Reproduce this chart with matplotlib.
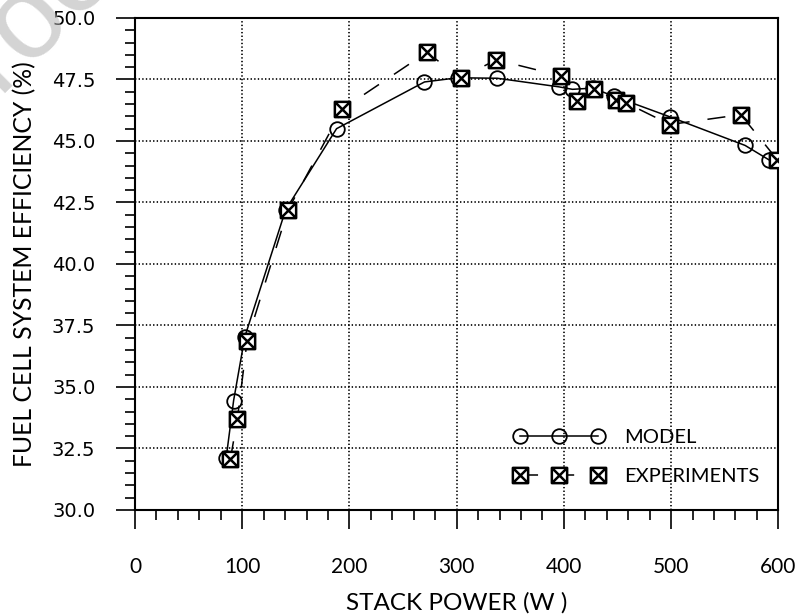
#import libraries
import numpy as np
import matplotlib
matplotlib.use("Agg")
import matplotlib.pyplot as plt
from matplotlib.path import Path

#data
model_power = [85, 92, 102.5, 140.5, 188, 270, 301, 338, 395.5, 408, 427, 446.5, 499, 569, 591]
model_eff = [32.1, 34.45, 37.05, 42.2, 45.5, 47.4, 47.57, 47.55, 47.2, 47.1, 47.15, 46.82, 45.98, 44.82, 44.24]

exp_power = [89, 95.5, 104.5, 142.5, 193.5, 272, 304, 337, 397, 412, 428, 449, 458, 499, 565, 599]
exp_eff = [32.07, 33.7, 36.86, 42.18, 46.3, 48.6, 47.57, 48.3, 47.65, 46.62, 47.12, 46.66, 46.55, 45.67, 46.07, 44.24]

x_ticks = [0, 100, 200, 300, 400, 500, 600]
y_ticks = [30.0, 32.5, 35.0, 37.5, 40.0, 42.5, 45.0, 47.5, 50.0]

plt.rcParams['lines.scale_dashes'] = False
label_font = 'Lato'

#square with a cross inside, used for the experiment points
box_x = Path([(-1, -1), (1, -1), (1, 1), (-1, 1), (-1, -1),
              (-1, -1), (1, 1), (-1, 1), (1, -1)],
             [Path.MOVETO, Path.LINETO, Path.LINETO, Path.LINETO, Path.CLOSEPOLY,
              Path.MOVETO, Path.LINETO, Path.MOVETO, Path.LINETO])

fig = plt.figure(figsize=(8.01, 6.14), dpi=100)
ax = fig.add_axes([0.1685, 0.1694, 0.8032, 0.8013])

ax.plot(model_power, model_eff, color='black', lw=1.1, marker='o', ms=10.5,
        mfc='none', mec='black', mew=1.3, label='MODEL', zorder=3)
ax.plot(exp_power, exp_eff, color='black', lw=1.1, dashes=(13, 13), marker=box_x,
        ms=11, mfc='white', mec='black', mew=1.8, label='EXPERIMENTS', zorder=4)

ax.set_xlim(0, 600)
ax.set_ylim(30, 50)
ax.set_xticks(x_ticks)
ax.set_xticklabels([str(v) for v in x_ticks], fontfamily=label_font, fontsize=15)
ax.set_yticks(y_ticks)
ax.set_yticklabels(['%.1f' % v for v in y_ticks], fontfamily='DejaVu Sans', fontsize=14)
ax.set_xticks(np.arange(0, 601, 20), minor=True)
ax.set_yticks(np.arange(30, 50.01, 0.5), minor=True)

ax.tick_params(axis='both', which='major', direction='out', length=14, width=1.2, color='black')
ax.tick_params(axis='both', which='minor', direction='out', length=7, width=1.2, color='black')
ax.tick_params(axis='x', which='major', pad=19.5)
ax.tick_params(axis='y', which='major', pad=14.5)

for s in ax.spines.values():
    s.set_linewidth(1.5)
    s.set_color('black')

ax.grid(True, which='major', color='black', linestyle=(0, (1, 1.6)), linewidth=1.2)
ax.set_axisbelow(True)

ax.set_xlabel('STACK POWER (W )', fontfamily=label_font, fontsize=17.5, labelpad=11.5)
ax.set_ylabel('FUEL CELL SYSTEM EFFICIENCY (%)', fontfamily=label_font, fontsize=17.8, labelpad=11.4)

leg = ax.legend(loc='upper left', bbox_to_anchor=(0.589, 0.1638), frameon=False,
                numpoints=3, handlelength=4.5, handletextpad=0.97, labelspacing=1.06,
                borderpad=0, borderaxespad=0, prop={'family': label_font, 'size': 14.5})

#faint watermark in the top-left corner
fig.text(0.182, 1.0765, 'Journal Pre-proof', fontfamily='Liberation Sans', fontsize=86,
         rotation=45, rotation_mode='anchor', ha='right', va='baseline',
         color=(0.69, 0.69, 0.69), alpha=0.55, zorder=10)

fig.savefig('out.png', dpi=100)
